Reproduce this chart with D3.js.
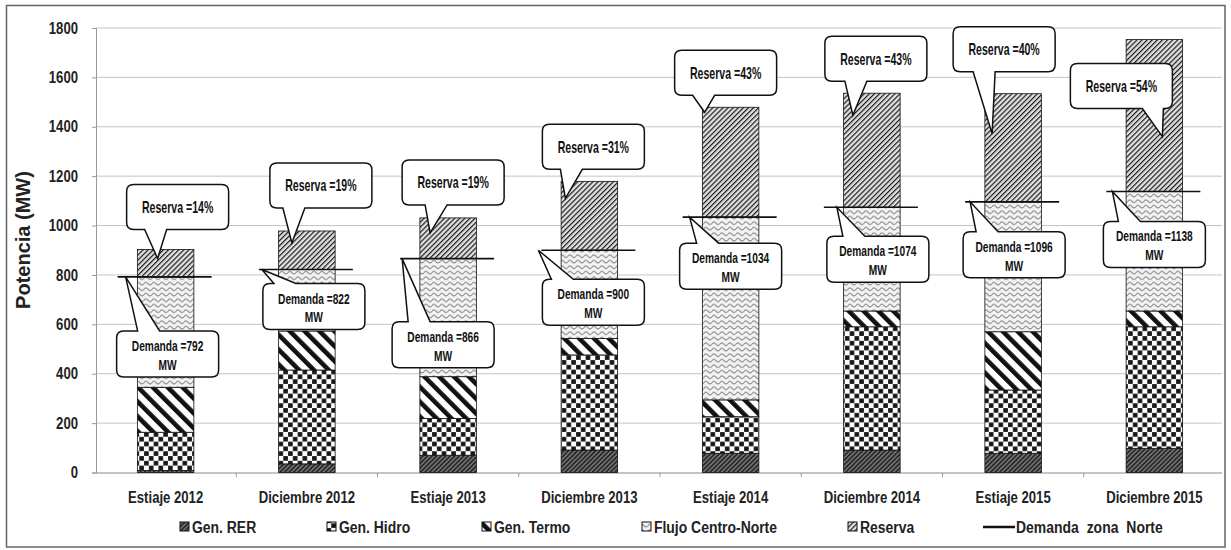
<!DOCTYPE html>
<html>
<head>
<meta charset="utf-8">
<script src="https://cdn.jsdelivr.net/npm/d3@7/dist/d3.min.js"></script>
<style>
  html, body { margin: 0; padding: 0; background: #fff; }
  svg { display: block; }
  .narrow { font-family: "Liberation Sans Narrow", "Arial Narrow", "Liberation Sans", sans-serif; font-weight: bold; }
</style>
</head>
<body>
<svg id="chart" width="1231" height="550"></svg>
<script>
// Potencia en la zona Norte: generación apilada por tipo, reserva y demanda
const categories = ["Estiaje 2012", "Diciembre 2012", "Estiaje 2013", "Diciembre 2013",
                    "Estiaje 2014", "Diciembre 2014", "Estiaje 2015", "Diciembre 2015"];
const genRER     = [8, 35, 70, 91, 78, 91, 78, 98];
const genHidro   = [155, 380, 149, 385, 148, 499, 256, 492];
const genTermo   = [182, 158, 169, 67, 68, 64, 236, 64];
const flujoCentroNorte = [447, 249, 478, 357, 740, 420, 526, 484];
const reserva    = [111, 156, 165, 279, 445, 462, 438, 615];
const demandaNorte = [792, 822, 866, 900, 1034, 1074, 1096, 1138];
const reservaPct = [14, 19, 19, 31, 43, 43, 40, 54];
const yTicks = [0, 200, 400, 600, 800, 1000, 1200, 1400, 1600, 1800];
const seriesNames = ["Gen. RER", "Gen. Hidro", "Gen. Termo", "Flujo Centro-Norte", "Reserva"];
const demandName = "Demanda zona Norte";

// Callout placement (offsets from bar centre / value position)
const reservaNotes = [
  {dx: -39, dy: -65, tdx: -8,  tdy: 9,  bdx: -13},
  {dx: -37, dy: -68, tdx: -15, tdy: 12, bdx: -9},
  {dx: -46, dy: -58, tdx: -18, tdy: 15, bdx: -5},
  {dx: -47, dy: -57, tdx: -24, tdy: 17, bdx: -5},
  {dx: -56, dy: -57, tdx: -26, tdy: 5,  bdx: -12},
  {dx: -47, dy: -57, tdx: -19, tdy: 22, bdx: -8},
  {dx: -60, dy: -67, tdx: -21, tdy: 40, bdx: -19},
  {dx: -84, dy: 24,  tdx: 8,   tdy: 97, bdx: -20}
];
const demandaNotes = [
  {dx: -49, dy: 54, tdx: -40, bdx: 12},
  {dx: -44, dy: 14, tdx: -45, bdx: 12},
  {dx: -56, dy: 63, tdx: -46, bdx: 6},
  {dx: -47, dy: 29, tdx: -51, bdx: 10},
  {dx: -51, dy: 26, tdx: -41, bdx: 7},
  {dx: -45, dy: 29, tdx: -35, bdx: 6},
  {dx: -50, dy: 30, tdx: -43, bdx: 6},
  {dx: -51, dy: 30, tdx: -42, bdx: 6}
];
const legendX = [180, 327, 482, 642, 848, 983];

const svg = d3.select("#chart");
const W = 1231, H = 550;
const SQUEEZE = 0.82;

// horizontally condense a text element around its anchor x
function condense(node, ax, f = SQUEEZE) {
  node.setAttribute("transform", `translate(${ax},0) scale(${f},1) translate(${-ax},0)`);
}

// ---------- fill patterns ----------
const defs = svg.append("defs");
// Gen. RER: dark dense hatch
const pRer = defs.append("pattern").attr("id", "pRER").attr("patternUnits", "userSpaceOnUse")
  .attr("width", 3.2).attr("height", 3.2).attr("patternTransform", "rotate(45)");
pRer.append("rect").attr("width", 3.2).attr("height", 3.2).attr("fill", "#707070");
pRer.append("rect").attr("width", 1.4).attr("height", 3.2).attr("fill", "#1e1e1e");
// Gen. Hidro: checker board
const cs = 4.8;
const pHid = defs.append("pattern").attr("id", "pHidro").attr("patternUnits", "userSpaceOnUse")
  .attr("width", cs * 2).attr("height", cs * 2);
pHid.append("rect").attr("width", cs * 2).attr("height", cs * 2).attr("fill", "#fff");
pHid.append("rect").attr("x", 0.1).attr("y", 0.1).attr("width", cs - 0.2).attr("height", cs - 0.2).attr("fill", "#151515");
pHid.append("rect").attr("x", cs + 0.1).attr("y", cs + 0.1).attr("width", cs - 0.2).attr("height", cs - 0.2).attr("fill", "#151515");
// Gen. Termo: wide back-diagonal stripes
const pTer = defs.append("pattern").attr("id", "pTermo").attr("patternUnits", "userSpaceOnUse")
  .attr("width", 10.5).attr("height", 10.5).attr("patternTransform", "rotate(-45)");
pTer.append("rect").attr("width", 10.5).attr("height", 10.5).attr("fill", "#fff");
pTer.append("rect").attr("width", 4.6).attr("height", 10.5).attr("fill", "#111");
// Flujo Centro-Norte: light wavy lines
const pFlu = defs.append("pattern").attr("id", "pFlujo").attr("patternUnits", "userSpaceOnUse")
  .attr("width", 8).attr("height", 5.5);
pFlu.append("rect").attr("width", 8).attr("height", 5.5).attr("fill", "#f2f2f2");
pFlu.append("path").attr("d", "M0,3.2 Q2,0.6 4,3.2 T8,3.2").attr("fill", "none")
  .attr("stroke", "#707070").attr("stroke-width", 1);
// Reserva: thin forward hatch
const pRes = defs.append("pattern").attr("id", "pReserva").attr("patternUnits", "userSpaceOnUse")
  .attr("width", 3.6).attr("height", 3.6).attr("patternTransform", "rotate(45)");
pRes.append("rect").attr("width", 3.6).attr("height", 3.6).attr("fill", "#e0e0e0");
pRes.append("rect").attr("width", 1.2).attr("height", 3.6).attr("fill", "#1a1a1a");

const fills = ["url(#pRER)", "url(#pHidro)", "url(#pTermo)", "url(#pFlujo)", "url(#pReserva)"];

// ---------- scales ----------
const x = d3.scaleBand().domain(categories).range([95, 1225]).paddingInner(0.6).paddingOuter(0.3);
const y = d3.scaleLinear().domain([0, 1800]).range([472.5, 28]);
const cx = c => x(c) + x.bandwidth() / 2;

// outer frame
svg.append("rect").attr("x", 6.5).attr("y", 5.5).attr("width", W - 4 - 8.5).attr("height", H - 3 - 5.5)
  .attr("fill", "#fff").attr("stroke", "#666").attr("stroke-width", 1.5);

// gridlines
svg.append("g").selectAll("line").data(yTicks.filter(t => t > 0)).join("line")
  .attr("x1", 96).attr("x2", 1222).attr("y1", d => y(d)).attr("y2", d => y(d))
  .attr("stroke", "#c4c4c4").attr("stroke-width", 1);

// y axis
const yAxis = svg.append("g").attr("transform", "translate(96,0)")
  .call(d3.axisLeft(y).tickValues(yTicks).tickSize(4).tickPadding(14).tickFormat(d3.format("d")));
yAxis.select(".domain").attr("stroke", "#999");
yAxis.selectAll(".tick line").attr("stroke", "#999");
yAxis.selectAll(".tick text").attr("class", "narrow").attr("font-size", 16).attr("fill", "#222")
  .each(function () { condense(this, +this.getAttribute("x")); });

// x axis
const xAxis = svg.append("g").attr("transform", "translate(0,473)")
  .call(d3.axisBottom(x).tickSize(0).tickPadding(19));
xAxis.select(".domain").attr("stroke", "#888").attr("d", "M96,0H1222");
xAxis.selectAll(".tick text").attr("class", "narrow").attr("font-size", 16).attr("fill", "#222")
  .each(function () { condense(this, 0); });
svg.append("g").selectAll("line").data(d3.range(1, categories.length)).join("line")
  .attr("x1", i => x(categories[i]) - x.step() * x.paddingInner() / 2)
  .attr("x2", i => x(categories[i]) - x.step() * x.paddingInner() / 2)
  .attr("y1", 473).attr("y2", 477).attr("stroke", "#999");

// y title
svg.append("text").attr("transform", "translate(30,240) rotate(-90)")
  .attr("text-anchor", "middle").attr("font-family", "'Liberation Sans', Arial, sans-serif")
  .attr("font-weight", "bold").attr("font-size", 20).attr("fill", "#222").text("Potencia (MW)");

// ---------- stacked bars ----------
const rows = categories.map((c, i) => ({
  cat: c, s0: genRER[i], s1: genHidro[i], s2: genTermo[i], s3: flujoCentroNorte[i], s4: reserva[i]
}));
const stack = d3.stack().keys(["s0", "s1", "s2", "s3", "s4"])(rows);
svg.append("g").selectAll("g").data(stack).join("g")
  .attr("fill", (d, k) => fills[k])
  .selectAll("rect").data(d => d).join("rect")
  .attr("x", d => x(d.data.cat)).attr("width", x.bandwidth())
  .attr("y", d => y(d[1])).attr("height", d => y(d[0]) - y(d[1]))
  .attr("stroke", "#111").attr("stroke-width", 0.8);

// demand lines
svg.append("g").selectAll("line").data(categories).join("line")
  .attr("x1", (c) => cx(c) - 48).attr("x2", c => cx(c) + 46)
  .attr("y1", (c, i) => y(demandaNorte[i])).attr("y2", (c, i) => y(demandaNorte[i]))
  .attr("stroke", "#111").attr("stroke-width", 1.6);

// ---------- callouts ----------
function calloutPath(x0, y0, w, h, r, side, b0, b1, tx, ty) {
  const x1 = x0 + w, y1 = y0 + h;
  const top = side === "top"
    ? `M${x0 + r},${y0} H${b0} L${tx},${ty} L${b1},${y0} H${x1 - r}`
    : `M${x0 + r},${y0} H${x1 - r}`;
  const bottom = side === "bottom"
    ? `H${b1} L${tx},${ty} L${b0},${y1} H${x0 + r}`
    : `H${x0 + r}`;
  return `${top} Q${x1},${y0} ${x1},${y0 + r} V${y1 - r} Q${x1},${y1} ${x1 - r},${y1} ${bottom}` +
         ` Q${x0},${y1} ${x0},${y1 - r} V${y0 + r} Q${x0},${y0} ${x0 + r},${y0} Z`;
}
const BW = 102, BH = 45, BR = 7;
const notes = svg.append("g");
categories.forEach((c, i) => {
  const xc = cx(c);
  // reserve callout
  const ytop = y(demandaNorte[i] + reserva[i]);
  const rn = reservaNotes[i];
  const rx0 = xc + rn.dx, ry0 = ytop + rn.dy;
  const rtx = xc + rn.tdx, rty = ytop + rn.tdy;
  const rb0 = Math.max(rtx + rn.bdx, rx0 + BR + 2), rb1 = Math.min(rb0 + 22, rx0 + BW - BR - 2);
  notes.append("path").attr("d", calloutPath(rx0, ry0, BW, BH, BR, "bottom", rb0, rb1, rtx, rty))
    .attr("fill", "#fff").attr("stroke", "#111").attr("stroke-width", 1.5);
  const rt = notes.append("text").attr("class", "narrow").attr("x", rx0 + BW / 2).attr("y", ry0 + 28.5)
    .attr("text-anchor", "middle").attr("font-size", 16).attr("fill", "#111")
    .text(`Reserva =${reservaPct[i]}%`);
  condense(rt.node(), rx0 + BW / 2, 0.66);
  // demand callout
  const yd = y(demandaNorte[i]);
  const dn = demandaNotes[i];
  const dx0 = xc + dn.dx, dy0 = yd + dn.dy;
  const dtx = xc + dn.tdx, dty = yd;
  const db0 = Math.max(dtx + dn.bdx, dx0 + BR + 2), db1 = db0 + 22;
  notes.append("path").attr("d", calloutPath(dx0, dy0, BW, 46, BR, "top", db0, db1, dtx, dty))
    .attr("fill", "#fff").attr("stroke", "#111").attr("stroke-width", 1.5);
  const t = notes.append("text").attr("class", "narrow").attr("text-anchor", "middle")
    .attr("font-size", 15).attr("fill", "#111");
  t.append("tspan").attr("x", dx0 + BW / 2).attr("y", dy0 + 20).text(`Demanda =${demandaNorte[i]}`);
  t.append("tspan").attr("x", dx0 + BW / 2).attr("y", dy0 + 39).text("MW");
  condense(t.node(), dx0 + BW / 2, 0.68);
});

// ---------- legend ----------
const leg = svg.append("g");
seriesNames.forEach((name, k) => {
  leg.append("rect").attr("x", legendX[k]).attr("y", 522).attr("width", 9).attr("height", 9)
    .attr("fill", fills[k]).attr("stroke", "#111").attr("stroke-width", 1);
  const lt = leg.append("text").attr("class", "narrow").attr("x", legendX[k] + 12).attr("y", 533)
    .attr("font-size", 17).attr("fill", "#222").text(name);
  condense(lt.node(), legendX[k] + 12);
});
leg.append("line").attr("x1", legendX[5]).attr("x2", legendX[5] + 32).attr("y1", 527).attr("y2", 527)
  .attr("stroke", "#111").attr("stroke-width", 2.5);
const dt = leg.append("text").attr("class", "narrow").attr("x", legendX[5] + 33).attr("y", 533)
  .attr("font-size", 17).attr("fill", "#222").attr("word-spacing", 5).text(demandName);
condense(dt.node(), legendX[5] + 33);
</script>
</body>
</html>
